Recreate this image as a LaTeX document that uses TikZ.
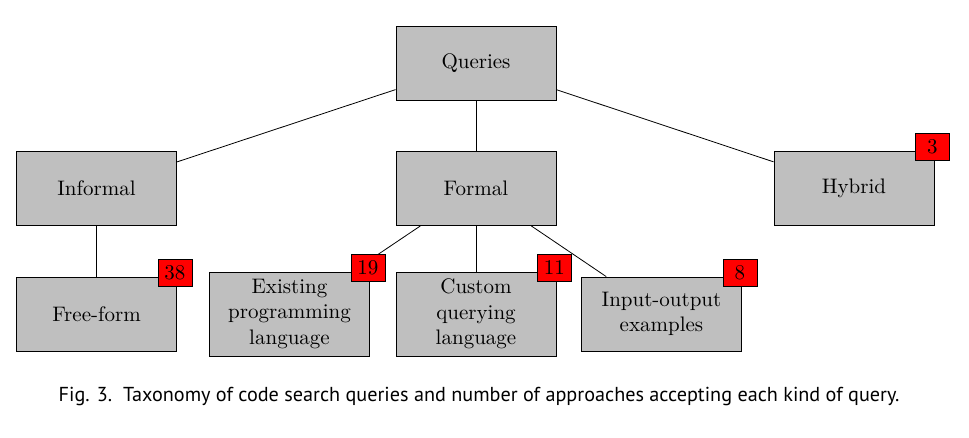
\documentclass[tikz,border=0pt]{standalone}
\usepackage{fontspec}
\newfontfamily\capfont{PT Sans}
\usetikzlibrary{positioning}

\begin{document}
\begin{tikzpicture}[x=0.5pt, y=-0.5pt,
  box/.style={draw, fill=lightgray, minimum width=80pt, minimum height=37pt, inner sep=0pt, align=center, font=\fontsize{10.5}{12.75}\selectfont},
  tallbox/.style={box, minimum height=42pt},
  cnt/.style={draw, fill=red, minimum width=17pt, minimum height=13.5pt, inner sep=1pt, font=\fontsize{10.5}{12}\selectfont}]
  \useasboundingbox (0,0) rectangle (969,438);
  % categories
  \node[box] (qry) at (476,63) {Queries};
  \node[box] (infml) at (96.5,188.5) {Informal};
  \node[box] (fml) at (476,188.5) {Formal};
  \node[box] (hyb) at (854,188.5) {Hybrid};
  \node[box] (free) at (96.5,314) {Free-form};
  \node[tallbox] (exist) at (289.5,314) {Existing\\programming\\language};
  \node[tallbox] (cust) at (476,314) {Custom\\querying\\language};
  \node[box] (io) at (661.5,314) {Input-output\\examples};
  % tree edges
  \draw (qry) -- (infml);
  \draw (qry) -- (fml);
  \draw (qry) -- (hyb);
  \draw (infml) -- (free);
  \draw (fml) -- (exist);
  \draw (fml) -- (cust);
  \draw (fml) -- (io);
  % number of approaches
  \node[cnt] (nhyb) at ([shift={(-1pt,2pt)}]hyb.north east) {3};
  \node[cnt] (nfree) at ([shift={(-1pt,2pt)}]free.north east) {38};
  \node[cnt] (nexist) at ([shift={(-1pt,2pt)}]exist.north east) {19};
  \node[cnt] (ncust) at ([shift={(-1pt,2pt)}]cust.north east) {11};
  \node[cnt] (nio) at ([shift={(-1pt,2pt)}]io.north east) {8};
  \node (cap) at (479,396) {\capfont\fontsize{10.1}{12}\selectfont Fig. 3.\ \ Taxonomy of code search queries and number of approaches accepting each kind of query.};
\end{tikzpicture}
\end{document}
